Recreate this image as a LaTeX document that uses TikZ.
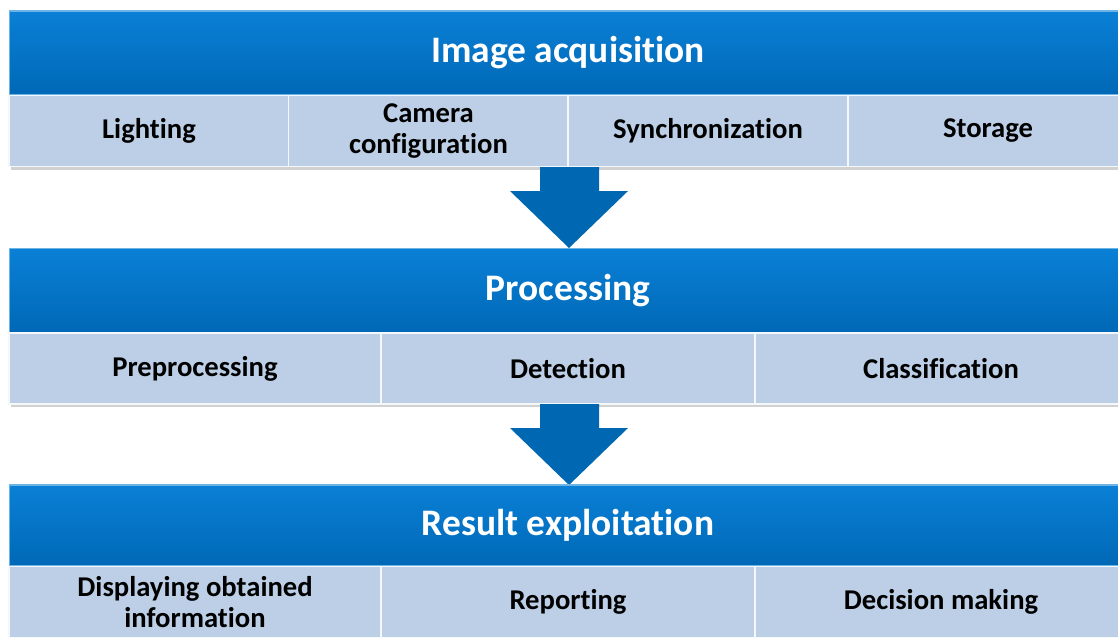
\documentclass[tikz,border=0pt]{standalone}
\usepackage{fontspec}
\setmainfont[Ligatures=NoCommon]{Carlito}
\usetikzlibrary{positioning}

\definecolor{hdrtop}{HTML}{0A80D6}
\definecolor{hdrbot}{HTML}{0068B6}
\definecolor{cellblue}{HTML}{BCCFE6}
\definecolor{arrowblue}{HTML}{0068B2}

\tikzset{
    header/.style={top color=hdrtop, bottom color=hdrbot, draw=hdrtop!60!white, line width=0.6pt,
        minimum width=22.36cm, minimum height=1.68cm, inner sep=0pt,
        text=white, font=\bfseries\fontsize{21.3}{24}\selectfont},
    cell/.style={fill=cellblue, draw=white!85!cellblue, line width=0.8pt,
        minimum height=1.42cm, inner sep=0pt, align=center,
        font=\bfseries\fontsize{16.3}{18}\selectfont},
}

\begin{document}
\begin{tikzpicture}[x=0.02cm,y=-0.02cm]
    \useasboundingbox (0,0) rectangle (1118,640);

    % Image acquisition
    \fill[black!18] (11,98) rectangle (1128,170);
    \node[header] (acq) at (568,53) {Image acquisition};
    \node[cell, minimum width=5.6cm] (light) at (149,131) {Lighting};
    \node[cell, minimum width=5.6cm] (cam) at (428.5,131) {Camera\\configuration};
    \node[cell, minimum width=5.6cm] (sync) at (708,131) {Synchronization};
    \node[cell, minimum width=5.6cm] (store) at (988,131) {Storage};

    % first arrow
    \fill[arrowblue] (540,167) -- (599,167) -- (599,191) -- (628,191) -- (569,248)
        -- (510,191) -- (540,191) -- cycle;

    % Processing
    \fill[black!18] (11,336) rectangle (1128,407);
    \node[header] (proc) at (568,290.5) {Processing};
    \node[cell, minimum width=7.44cm] (pre) at (195,368.5) {Preprocessing};
    \node[cell, minimum width=7.48cm] (det) at (568,368.5) {Detection};
    \node[cell, minimum width=7.44cm] (cls) at (941,368.5) {Classification};

    % second arrow
    \fill[arrowblue] (540,404) -- (599,404) -- (599,428) -- (628,428) -- (569,485)
        -- (510,428) -- (540,428) -- cycle;

    % Result exploitation
    \node[header, minimum height=1.62cm] (res) at (568,525.5) {Result exploitation};
    \node[cell, minimum width=7.44cm] (disp) at (195,602) {Displaying obtained\\information};
    \node[cell, minimum width=7.48cm] (rep) at (568,602) {Reporting};
    \node[cell, minimum width=7.44cm] (dec) at (941,602) {Decision making};
\end{tikzpicture}
\end{document}
